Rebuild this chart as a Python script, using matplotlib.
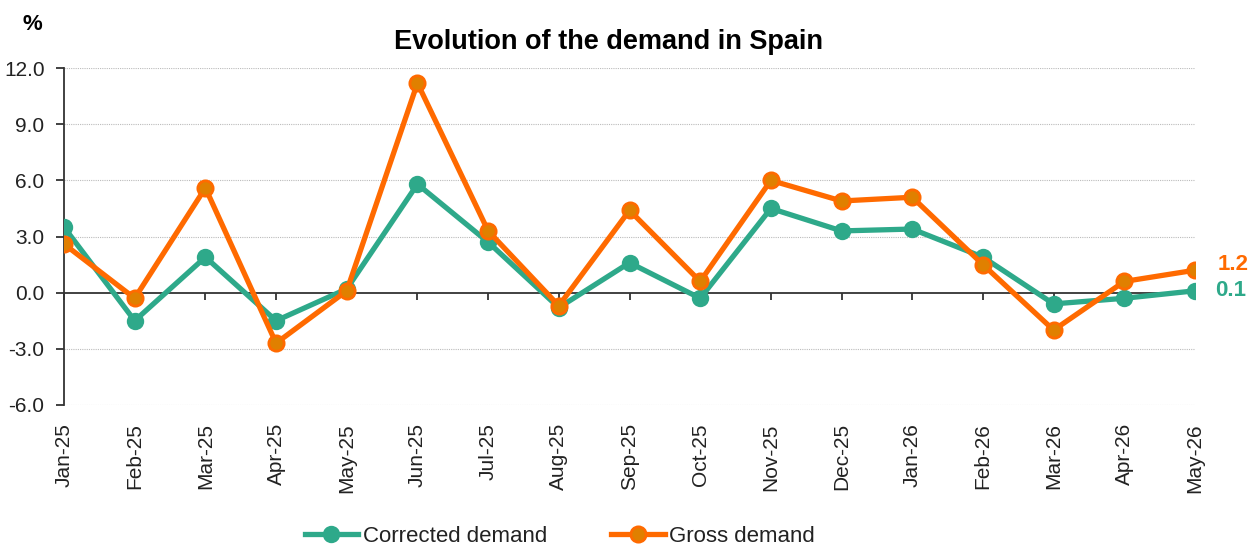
import matplotlib.pyplot as plt
import numpy as np

plt.rcParams['font.family'] = ['Liberation Sans', 'DejaVu Sans']

# datos
months = ['Jan-25', 'Feb-25', 'Mar-25', 'Apr-25', 'May-25', 'Jun-25', 'Jul-25', 'Aug-25',
          'Sep-25', 'Oct-25', 'Nov-25', 'Dec-25', 'Jan-26', 'Feb-26', 'Mar-26', 'Apr-26', 'May-26']
corrected = [3.5, -1.5, 1.9, -1.5, 0.2, 5.8, 2.7, -0.8, 1.6, -0.3, 4.5, 3.3, 3.4, 1.9, -0.6, -0.3, 0.1]
gross = [2.6, -0.3, 5.6, -2.7, 0.1, 11.2, 3.3, -0.7, 4.4, 0.6, 6.0, 4.9, 5.1, 1.5, -2.0, 0.6, 1.2]
yticks = [-6, -3, 0, 3, 6, 9, 12]

teal = '#2EA98A'
orange = '#FF6A00'
orange_face = '#E08000'

fig = plt.figure(figsize=(12.55, 5.45), dpi=100)
ax = fig.add_axes([0.051, 0.257, 0.9012, 0.618])

x = np.arange(len(months))
ax.plot(x, corrected, color=teal, lw=3.8, marker='o', ms=11,
        mfc=teal, mec=teal, mew=1.5, label='Corrected demand', zorder=3)
ax.plot(x, gross, color=orange, lw=3.8, marker='o', ms=11,
        mfc=orange_face, mec=orange, mew=2, label='Gross demand', zorder=4)

ax.set_xlim(0, len(months) - 1)
ax.set_ylim(-6, 12)
ax.set_yticks(yticks)
ax.set_yticklabels([f'{v:.1f}' for v in yticks])
ax.set_xticks(x)
ax.set_xticklabels(months)

# rejilla punteada
for v in yticks:
    if v != 0:
        ax.axhline(v, color='#BBBBBB', lw=0.8, ls=(0, (1, 1)), zorder=1)

ax.spines['top'].set_visible(False)
ax.spines['right'].set_visible(False)
ax.spines['bottom'].set_position(('data', 0))
ax.spines['bottom'].set_color('#333333')
ax.spines['left'].set_color('#333333')
ax.spines['bottom'].set_linewidth(1.3)
ax.spines['left'].set_linewidth(1.3)

ax.tick_params(axis='x', direction='out', length=5, width=1.3, color='#333333',
               labelsize=15, labelcolor='#222222', pad=89, labelrotation=90)
ax.tick_params(axis='y', direction='out', length=6, width=1.3, color='#333333',
               labelsize=15, labelcolor='#222222', pad=8)

# etiquetas del último valor
ax.annotate(f'{gross[-1]:.1f}', (x[-1], gross[-1]), xytext=(16, 4), textcoords='offset points',
            color=orange, fontsize=16, fontweight='bold', va='center', ha='left')
ax.annotate(f'{corrected[-1]:.1f}', (x[-1], corrected[-1]), xytext=(14.5, 0), textcoords='offset points',
            color=teal, fontsize=16, fontweight='bold', va='center', ha='left')

fig.text(0.485, 0.923, 'Evolution of the demand in Spain', ha='center', va='center',
         fontsize=19.5, fontweight='bold')
fig.text(0.0255, 0.955, '%', ha='center', va='center', fontsize=16, fontweight='bold')

fig.legend(loc='center', bbox_to_anchor=(0.446, 0.016), ncol=2, frameon=False,
           fontsize=16, handlelength=2.4, handletextpad=0.2, columnspacing=2.9,
           labelcolor='#222222')

fig.savefig('out.png', dpi=100)
